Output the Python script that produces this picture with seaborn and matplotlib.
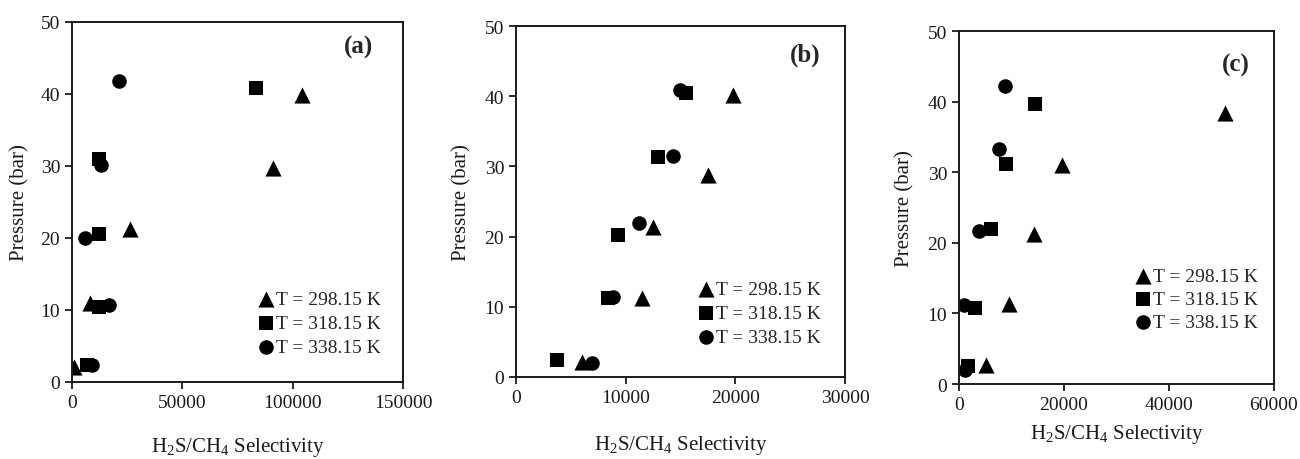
import matplotlib
matplotlib.use("Agg")
import pandas as pd
import matplotlib.pyplot as plt
import seaborn as sns

# values: H2S/CH4 selectivity vs pressure (bar)
labels = ["T = 298.15 K", "T = 318.15 K", "T = 338.15 K"]
markers = ["^", "s", "o"]

# panel (a)
a_sel_298 = [700, 8000, 26200, 91000, 104100]
a_p_298 = [2.1, 11.0, 21.3, 29.7, 39.8]
a_sel_318 = [6800, 12300, 12300, 12300, 83400]
a_p_318 = [2.3, 10.4, 20.6, 31.0, 40.9]
a_sel_338 = [9200, 16800, 5800, 13000, 21200]
a_p_338 = [2.4, 10.7, 20.0, 30.1, 41.8]

# panel (b)
b_sel_298 = [6000, 11460, 12520, 17540, 19820]
b_p_298 = [2.1, 11.2, 21.3, 28.8, 40.2]
b_sel_318 = [3700, 8420, 9270, 12980, 15500]
b_p_318 = [2.4, 11.3, 20.2, 31.3, 40.5]
b_sel_338 = [6900, 8880, 11250, 14350, 14950]
b_p_338 = [2.0, 11.4, 22.0, 31.5, 40.9]

# panel (c)
c_sel_298 = [5090, 9540, 14300, 19700, 50660]
c_p_298 = [2.7, 11.3, 21.3, 31.0, 38.4]
c_sel_318 = [1700, 3000, 6000, 9030, 14430]
c_p_318 = [2.5, 10.7, 21.9, 31.1, 39.6]
c_sel_338 = [1100, 950, 3750, 7630, 8710]
c_p_338 = [2.0, 11.2, 21.7, 33.3, 42.2]

panels = [
    ("(a)", [(a_sel_298, a_p_298), (a_sel_318, a_p_318), (a_sel_338, a_p_338)], 150000, [0, 50000, 100000, 150000]),
    ("(b)", [(b_sel_298, b_p_298), (b_sel_318, b_p_318), (b_sel_338, b_p_338)], 30000, [0, 10000, 20000, 30000]),
    ("(c)", [(c_sel_298, c_p_298), (c_sel_318, c_p_318), (c_sel_338, c_p_338)], 60000, [0, 20000, 40000, 60000]),
]

sns.set_style("white")
plt.rcParams["font.family"] = ["Liberation Serif", "DejaVu Serif"]
plt.rcParams["mathtext.fontset"] = "custom"
plt.rcParams["mathtext.rm"] = "Liberation Serif"
plt.rcParams["mathtext.it"] = "Liberation Serif:italic"

fig = plt.figure(figsize=(13, 4.6), dpi=100)

rects = [
    [0.0554, 0.1674, 0.2546, 0.7826],
    [0.3969, 0.1783, 0.2531, 0.7630],
    [0.7377, 0.1630, 0.2423, 0.7674],
]
xlab_y = [-0.148, -0.16, -0.108]
ylab_x = [-0.13, -0.134, -0.14]
leg_anchor = [(0.565, 0.255), (0.558, 0.275), (0.563, 0.33)]
leg_spacing = [0.33, 0.33, 0.27]
tag_pos = [(0.865, 0.965), (0.878, 0.952), (0.878, 0.938)]

for i, (tag, series, xmax, xticks) in enumerate(panels):
    ax = fig.add_axes(rects[i])
    for (sel, p), lab, mk in zip(series, labels, markers):
        df = pd.DataFrame({"sel": sel, "p": p})
        size = 135 if mk == "^" else 110
        sns.scatterplot(data=df, x="sel", y="p", marker=mk, color="black",
                        s=size, linewidth=0, label=lab, ax=ax)
    ax.set_xlim(0, xmax)
    ax.set_ylim(0, 50)
    ax.set_xticks(xticks)
    ax.set_yticks([0, 10, 20, 30, 40, 50])
    ax.tick_params(direction="out", length=5, width=1.3, labelsize=14,
                   bottom=True, left=True, colors="#1a1a1a", labelcolor="#1a1a1a")
    for sp in ax.spines.values():
        sp.set_color("#1a1a1a")
        sp.set_linewidth(1.4)
    ax.set_xlabel("H$_2$S/CH$_4$ Selectivity", fontsize=15, color="#1a1a1a")
    ax.set_ylabel("Pressure (bar)", fontsize=15, color="#1a1a1a")
    ax.xaxis.set_label_coords(0.5, xlab_y[i])
    ax.yaxis.set_label_coords(ylab_x[i], 0.5)
    ax.text(tag_pos[i][0], tag_pos[i][1], tag, transform=ax.transAxes,
            ha="center", va="top", fontsize=18, fontweight="bold")
    ax.legend(loc="upper left", bbox_to_anchor=leg_anchor[i], frameon=False,
              fontsize=14, handlelength=0.7, handletextpad=0.15,
              borderpad=0, borderaxespad=0, labelspacing=leg_spacing[i],
              markerscale=1.0)
    ax.grid(False)

fig.savefig("out.png", dpi=100)
